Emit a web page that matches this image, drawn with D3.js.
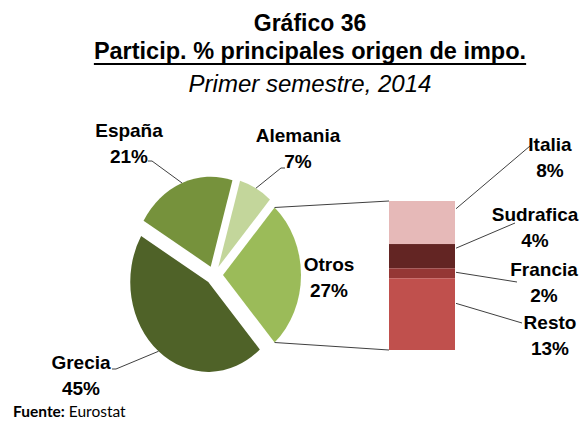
<!DOCTYPE html>
<html>
<head>
  <meta charset="utf-8">
  <script src="https://d3js.org/d3.v7.min.js"></script>
  <style>
    body, html { margin: 0; padding: 0; background: #fff; }
    svg { display: block; }
    .lbl { font-family: "Liberation Sans", Arial, sans-serif; font-weight: bold; font-size: 19px; fill: #000; }
  </style>
</head>
<body>
<svg></svg>
<script>
  const width = 582;
  const height = 425;

  // Pie principal
  const pieNames = ["Otros", "Grecia", "España", "Alemania"];
  const pieValues = [27, 45, 21, 7];
  const pieColors = ["#9BBB59", "#4F6228", "#76923C", "#C3D69B"];

  // Barra: desglose de "Otros"
  const barNames = ["Italia", "Sudrafica", "Francia", "Resto"];
  const barValues = [7.8, 4.4, 1.8, 13];
  const barColors = ["#E6B9B8", "#632523", "#953735", "#C0504D"];

  // label layout (center x, first baseline)
  const pieLabelPos = [[329, 271], [81, 369], [129, 137], [298, 142]];
  const pieLeaderStart = [null, [[112, 369], [116, 369]], [[148, 161], [152, 161]], [[285, 168], [281, 168]]];
  const barLabelPos = [[550, 151], [535, 221], [544, 276], [550, 329]];
  const barLeaderStart = [[530, 146], [515, 223], [517, 282], [522, 323]];
  const barLeaderFrac = [0.18, 0.17, 0.4, 0.35];

  const svg = d3.select("svg")
    .attr("width", width)
    .attr("height", height)
    .attr("viewBox", [0, 0, width, height]);

  // Title
  const title = svg.append("g")
    .attr("font-family", "'Liberation Sans', Arial, sans-serif")
    .attr("text-anchor", "middle");
  title.append("text")
    .attr("x", 310).attr("y", 31)
    .attr("font-size", 23).attr("font-weight", "bold")
    .text("Gráfico 36");
  const t2 = title.append("text")
    .attr("x", 310).attr("y", 59)
    .attr("font-size", 23.5).attr("font-weight", "bold")
    .text("Particip. % principales origen de impo.");
  const w2 = t2.node().getComputedTextLength();
  title.append("line")
    .attr("x1", 310 - w2 / 2).attr("x2", 310 + w2 / 2)
    .attr("y1", 64).attr("y2", 64)
    .attr("stroke", "#000").attr("stroke-width", 2);
  title.append("text")
    .attr("x", 310).attr("y", 92)
    .attr("font-size", 24).attr("font-style", "italic")
    .text("Primer semestre, 2014");

  // Pie geometry
  const cx = 214, cy = 275, ry = 90, kx = 78 / 90, explode = 9;
  const total = d3.sum(pieValues);
  const start = Math.PI / 2 - (pieValues[0] / total) * Math.PI;
  const arcs = d3.pie().sort(null).startAngle(start).endAngle(start + 2 * Math.PI)(pieValues);
  const arc = d3.arc().innerRadius(0).outerRadius(ry);

  const origin = d => {
    const m = (d.startAngle + d.endAngle) / 2;
    return [cx + explode * Math.sin(m), cy - explode * Math.cos(m)];
  };
  const edge = (d, a) => {
    const [ox, oy] = origin(d);
    return [ox + kx * ry * Math.sin(a), oy - ry * Math.cos(a)];
  };

  svg.append("g")
    .selectAll("path")
    .data(arcs)
    .join("path")
      .attr("transform", d => `translate(${origin(d)}) scale(${kx},1)`)
      .attr("d", arc)
      .attr("fill", (d, i) => pieColors[i]);

  // Bar
  const barX = 389, barW = 66;
  const y = d3.scaleLinear().domain([0, d3.sum(barValues)]).range([201, 350]);
  const cum = [0, ...d3.cumsum(barValues)];

  svg.append("g")
    .selectAll("rect")
    .data(barValues)
    .join("rect")
      .attr("x", barX)
      .attr("width", barW)
      .attr("y", (d, i) => y(cum[i]))
      .attr("height", d => y(d) - y(0))
      .attr("fill", (d, i) => barColors[i]);

  // connector lines pie -> bar
  const otros = arcs[0];
  const lineG = svg.append("g").attr("stroke", "#404040").attr("stroke-width", 1).attr("fill", "none");
  lineG.append("line")
    .attr("x1", edge(otros, otros.startAngle)[0]).attr("y1", edge(otros, otros.startAngle)[1])
    .attr("x2", barX).attr("y2", y(0));
  lineG.append("line")
    .attr("x1", edge(otros, otros.endAngle)[0]).attr("y1", edge(otros, otros.endAngle)[1])
    .attr("x2", barX).attr("y2", y(cum[cum.length - 1]));

  // leader lines
  const line = d3.line();
  arcs.forEach((d, i) => {
    if (!pieLeaderStart[i]) return;
    const m = (d.startAngle + d.endAngle) / 2;
    lineG.append("path").attr("d", line([...pieLeaderStart[i], edge(d, m)]));
  });
  barValues.forEach((v, i) => {
    lineG.append("path").attr("d", line([barLeaderStart[i], [barX + barW + 1, y(cum[i] + barLeaderFrac[i] * v)]]));
  });

  // labels
  const fmt = v => Math.round(v) + "%";
  const labelG = svg.append("g").attr("text-anchor", "middle");
  const addLabel = (name, val, [x, yy]) => {
    const t = labelG.append("text").attr("class", "lbl");
    t.append("tspan").attr("x", x).attr("y", yy).text(name);
    t.append("tspan").attr("x", x).attr("y", yy + 25.5).text(fmt(val));
  };
  pieNames.forEach((n, i) => addLabel(n, pieValues[i], pieLabelPos[i]));
  barNames.forEach((n, i) => addLabel(n, barValues[i], barLabelPos[i]));

  // Source
  const src = svg.append("text")
    .attr("x", 13).attr("y", 417)
    .attr("font-family", "Lato, 'Open Sans', sans-serif")
    .attr("font-size", 15.5);
  src.append("tspan").attr("font-weight", "bold").text("Fuente:");
  src.append("tspan").text(" Eurostat");
</script>
</body>
</html>
